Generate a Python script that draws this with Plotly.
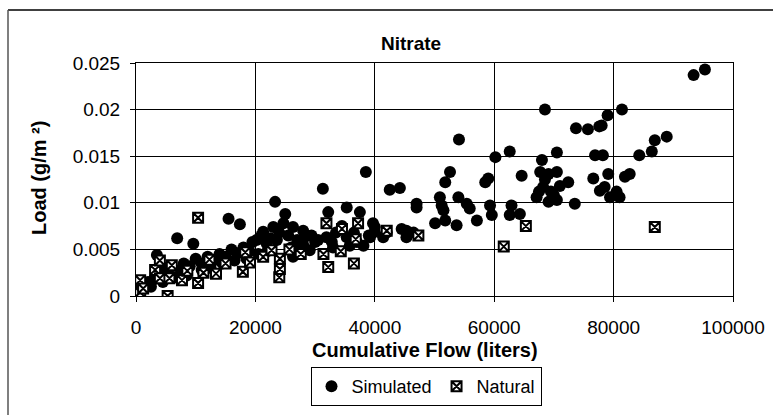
import plotly.graph_objects as go

# ---------------- data ----------------
sim_x = [500, 1000, 1500, 2000, 3000, 3500, 4000, 5000, 5500, 6000, 6900, 7500, 8000, 9000, 9600,
         10000, 11000, 12000, 13000, 14000, 15000, 15500, 16000, 17000, 17400, 18000, 19000, 19500,
         20200, 21000, 21300, 21900, 22500, 23000, 23300, 23600, 24000, 24700, 25000, 25500, 26300,
         26300, 27000, 27500, 28000, 28500, 29100, 29400, 30000, 31300, 31900, 32200, 32800, 33500,
         34500, 35300, 35300, 35800, 36500, 37500, 38100, 38500, 39200, 39700, 40000, 40000, 41400,
         42500, 44200, 45300, 45300, 47000, 47000, 50100, 50900, 51200, 51500, 51800, 51800, 52600,
         53700, 54000, 54100, 55400, 55900, 57100, 58500, 59000, 59300, 59600, 60200, 62600, 62900,
         62600, 64300, 64600, 68000, 68500, 67700, 69100, 70500, 72400, 68200, 67100, 69100, 70500,
         73500, 70500, 68500, 69500, 71000, 67500, 70000, 73700, 75700, 77600, 79000, 81400, 76600,
         79100, 77700, 79400, 80500, 76900, 78200, 78000, 80500, 81000, 78500, 82700, 81900, 84300,
         86400, 86900, 88900, 93400, 95300,
         2500, 4500, 6500, 8500, 11000, 12500, 14500, 16500, 18500, 20500, 22000, 26000, 28000,
         30500, 33000, 37000, 39000, 42000, 44500, 46500]
sim_y = [0.0005, 0.0008, 0.0012, 0.0015, 0.0018, 0.0044, 0.0025, 0.0030, 0.0022, 0.0032, 0.0062,
         0.0028, 0.0035, 0.0032, 0.0056, 0.0040, 0.0035, 0.0042, 0.0038, 0.0045, 0.0042, 0.0083,
         0.0050, 0.0046, 0.0077, 0.0052, 0.0048, 0.0058, 0.0060, 0.0065, 0.0069, 0.0056, 0.0062,
         0.0074, 0.0101, 0.0060, 0.0068, 0.0078, 0.0088, 0.0065, 0.0074, 0.0042, 0.0060, 0.0056,
         0.0070, 0.0064, 0.0049, 0.0065, 0.0058, 0.0115, 0.0063, 0.0090, 0.0058, 0.0068, 0.0075,
         0.0095, 0.0063, 0.0054, 0.0068, 0.0090, 0.0054, 0.0133, 0.0063, 0.0078, 0.0069, 0.0074,
         0.0063, 0.0114, 0.0116, 0.0070, 0.0063, 0.0099, 0.0095, 0.0078, 0.0106, 0.0097, 0.0092,
         0.0081, 0.0122, 0.0133, 0.0076, 0.0106, 0.0168, 0.0099, 0.0094, 0.0081, 0.0122, 0.0126,
         0.0097, 0.0087, 0.0149, 0.0155, 0.0097, 0.0087, 0.0088, 0.0129, 0.0146, 0.0200, 0.0133,
         0.0131, 0.0133, 0.0122, 0.0117, 0.0106, 0.0101, 0.0103, 0.0099, 0.0154, 0.0125, 0.0112,
         0.0118, 0.0112, 0.0108, 0.0180, 0.0179, 0.0182, 0.0194, 0.0200, 0.0126, 0.0131, 0.0113,
         0.0106, 0.0112, 0.0151, 0.0151, 0.0183, 0.0108, 0.0106, 0.0117, 0.0131, 0.0128, 0.0151,
         0.0155, 0.0167, 0.0171, 0.0237, 0.0243,
         0.0010, 0.0015, 0.0020, 0.0022, 0.0028, 0.0030, 0.0035, 0.0038, 0.0040, 0.0045, 0.0048,
         0.0052, 0.0055, 0.0060, 0.0052, 0.0058, 0.0065, 0.0068, 0.0072, 0.0068]

nat_x = [700, 700, 1200, 3200, 4000, 4000, 5300, 5600, 6000, 7700, 8600, 10400, 10400, 11300,
         12300, 13400, 15000, 17900, 18300, 19100, 21300, 22700, 24000, 24100, 24100, 25700, 27600,
         31400, 31900, 32200, 34300, 34500, 36500, 36800, 37200, 42000, 47300, 61600, 65300, 86900]
nat_y = [0.0004, 0.0017, 0.0008, 0.0028, 0.0038, 0.0019, 0.0000, 0.0019, 0.0033, 0.0017, 0.0027,
         0.0084, 0.0014, 0.0025, 0.0039, 0.0024, 0.0035, 0.0026, 0.0047, 0.0036, 0.0042, 0.0049,
         0.0020, 0.0029, 0.0040, 0.0050, 0.0045, 0.0045, 0.0078, 0.0031, 0.0048, 0.0072, 0.0035,
         0.0061, 0.0078, 0.0070, 0.0065, 0.0053, 0.0075, 0.0074]

x_ticks = [0, 20000, 40000, 60000, 80000, 100000]
x_tick_labels = ["0", "20000", "40000", "60000", "80000", "100000"]
y_ticks = [0, 0.005, 0.01, 0.015, 0.02, 0.025]
y_tick_labels = ["0", "0.005", "0.01", "0.015", "0.02", "0.025"]

# ---------------- figure ----------------
W, H = 773, 415
L, R, T, B = 136, 40, 63, 119
pw, ph = W - L - R, H - T - B


def px(xp):
    return (xp - L) / pw


def py(yp):
    return (H - B - yp) / ph


FONT = "Liberation Sans, Arial, sans-serif"

fig = go.Figure()
fig.add_trace(go.Scatter(
    x=sim_x, y=sim_y, mode="markers", name="Simulated",
    marker=dict(symbol="circle", size=12, color="black"),
))
fig.add_trace(go.Scatter(
    x=nat_x, y=nat_y, mode="markers", name="Natural",
    marker=dict(symbol="square-x", size=10, color="white",
                line=dict(color="black", width=2)),
))

axis_common = dict(
    showgrid=True, gridcolor="black", gridwidth=1,
    showline=True, linecolor="black", linewidth=1, mirror=True,
    ticks="outside", ticklen=5, tickcolor="black",
    zeroline=False, automargin=False,
    tickfont=dict(family=FONT, size=19, color="black"),
)

fig.update_xaxes(range=[0, 100000], tickvals=x_ticks, ticktext=x_tick_labels,
                 ticklabelstandoff=9, **axis_common)
fig.update_yaxes(range=[0, 0.025], tickvals=y_ticks, ticktext=y_tick_labels,
                 ticklabelstandoff=6, **axis_common)

fig.update_layout(
    width=W, height=H,
    margin=dict(l=L, r=R, t=T, b=B, pad=0, autoexpand=False),
    paper_bgcolor="white", plot_bgcolor="white",
    font=dict(family=FONT, color="black"),
    showlegend=True,
    legend=dict(
        orientation="h", x=px(426), y=py(367), xanchor="center", yanchor="top",
        bordercolor="black", borderwidth=1, bgcolor="white",
        font=dict(family=FONT, size=18, color="black"),
        itemwidth=30, tracegroupgap=0,
    ),
    annotations=[
        dict(text="<b>Nitrate</b>", x=px(411), y=py(44), xref="paper", yref="paper",
             xanchor="center", yanchor="middle", showarrow=False,
             font=dict(family=FONT, size=19, color="black")),
        dict(text="<b>Cumulative Flow (liters)</b>", x=px(425), y=py(350), xref="paper",
             yref="paper", xanchor="center", yanchor="middle", showarrow=False,
             font=dict(family=FONT, size=20, color="black")),
        dict(text="<b>Load (g/m ²)</b>", x=px(39), y=py(178), xref="paper",
             yref="paper", xanchor="center", yanchor="middle", showarrow=False, textangle=-90,
             font=dict(family=FONT, size=20, color="black")),
    ],
    shapes=[
        dict(type="line", xref="paper", yref="paper", x0=px(8), x1=px(773), y0=py(10), y1=py(10),
             line=dict(color="black", width=1.5)),
        dict(type="line", xref="paper", yref="paper", x0=px(8), x1=px(8), y0=py(10), y1=py(415),
             line=dict(color="#555555", width=1.5)),
    ],
)

fig.write_html("out.html", config={"displayModeBar": False},
               post_script="document.body.style.margin='0';")
